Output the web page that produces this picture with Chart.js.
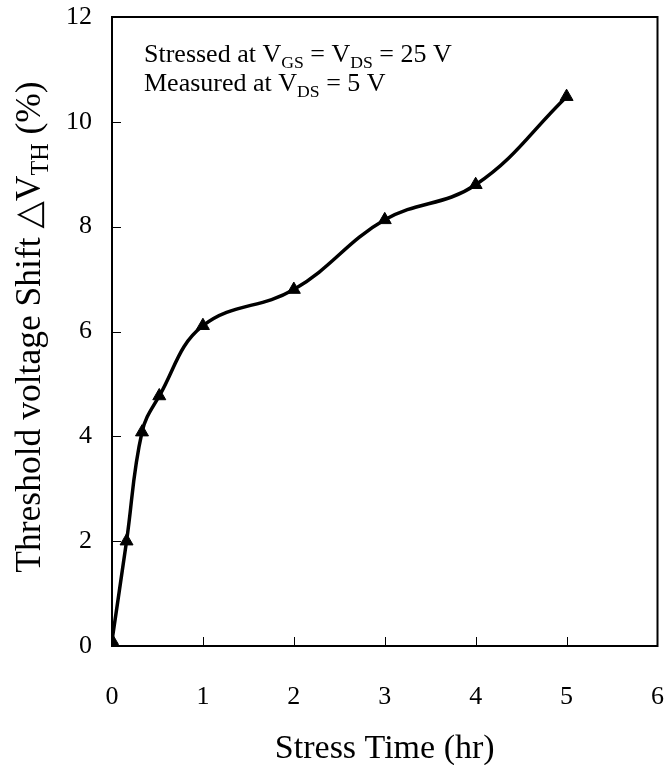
<!DOCTYPE html>
<html>
<head>
<meta charset="utf-8">
<script src="https://cdn.jsdelivr.net/npm/chart.js@4.4.0/dist/chart.umd.min.js"></script>
<style>
  html, body { margin: 0; padding: 0; background: #fff; }
  #wrap { width: 666px; height: 765px; position: relative; }
</style>
</head>
<body>
<div id="wrap"><canvas id="grafico"></canvas></div>
<script>
// stress time (hr) and threshold voltage shift (%)
const tiempos = [0, 0.16, 0.33, 0.52, 1, 2, 3, 4, 5];
const desplazamientos = [0.1, 2.0, 4.08, 4.77, 6.11, 6.8, 8.13, 8.8, 10.48];
const ticksX = [0, 1, 2, 3, 4, 5, 6];
const ticksY = [0, 2, 4, 6, 8, 10, 12];

const SERIF = '"Liberation Serif", "DejaVu Serif", serif';

const puntos = tiempos.map((t, i) => ({ x: t, y: desplazamientos[i] }));

// draws text with subscripts: partes = [[texto, esSub], ...]
const textoConSub = (ctx, partes, x, y, tam) => {
  let cx = x;
  partes.forEach(([txt, sub]) => {
    const t = sub ? tam * 0.68 : tam;
    ctx.font = `${t}px ${SERIF}`;
    ctx.fillText(txt, cx, sub ? y + tam * 0.22 : y);
    cx += ctx.measureText(txt).width;
  });
  return cx - x;
};

const anchoConSub = (ctx, partes, tam) => {
  let w = 0;
  partes.forEach(([txt, sub]) => {
    ctx.font = `${sub ? tam * 0.68 : tam}px ${SERIF}`;
    w += ctx.measureText(txt).width;
  });
  return w;
};

// labels shouldn't push the plot area around
const sinPadding = s => {
  s.paddingTop = 0;
  s.paddingBottom = 0;
  s.paddingLeft = 0;
  s.paddingRight = 0;
};

const marcoPlugin = {
  id: 'marco',
  afterDraw(chart) {
    const { ctx, chartArea: a, scales } = chart;
    ctx.save();
    ctx.strokeStyle = '#000';
    ctx.lineWidth = 2;
    ctx.strokeRect(a.left, a.top, a.right - a.left, a.bottom - a.top);

    // inward ticks
    ctx.lineWidth = 1;
    ctx.beginPath();
    ticksX.slice(1, -1).forEach(v => {
      const px = Math.round(scales.x.getPixelForValue(v)) + 0.5;
      ctx.moveTo(px, a.bottom);
      ctx.lineTo(px, a.bottom - 9);
    });
    ticksY.slice(1, -1).forEach(v => {
      const py = Math.round(scales.y.getPixelForValue(v)) + 0.5;
      ctx.moveTo(a.left, py);
      ctx.lineTo(a.left + 9, py);
    });
    ctx.stroke();

    ctx.fillStyle = '#000';
    ctx.textBaseline = 'alphabetic';
    ctx.textAlign = 'left';

    // annotation
    textoConSub(ctx, [['Stressed at V', false], ['GS', true], [' = V', false], ['DS', true], [' = 25 V', false]], a.left + 32, 62, 26);
    textoConSub(ctx, [['Measured at V', false], ['DS', true], [' = 5 V', false]], a.left + 32, 91, 26);

    // x title
    ctx.font = `34px ${SERIF}`;
    ctx.textAlign = 'center';
    ctx.fillText('Stress Time (hr)', (a.left + a.right) / 2, 758);

    // y title (rotated)
    const partesY = [['Threshold voltage Shift \u25B3V', false], ['TH', true], [' (%)', false]];
    const w = anchoConSub(ctx, partesY, 35.5);
    ctx.translate(40, 327);
    ctx.rotate(-Math.PI / 2);
    ctx.textAlign = 'left';
    textoConSub(ctx, partesY, -w / 2, 0, 35.5);
    ctx.restore();
  }
};

new Chart(document.getElementById('grafico'), {
  type: 'line',
  data: {
    datasets: [{
      data: puntos,
      borderColor: '#000',
      backgroundColor: '#000',
      borderWidth: 3.5,
      tension: 0.4,
      pointStyle: 'triangle',
      pointRadius: 7.5,
      pointBorderWidth: 1,
      pointBorderColor: '#000',
      pointBackgroundColor: '#000'
    }]
  },
  options: {
    responsive: true,
    maintainAspectRatio: false,
    animation: false,
    layout: { padding: { left: 0, top: 17, right: 8, bottom: 0 } },
    plugins: { legend: { display: false }, tooltip: { enabled: false } },
    scales: {
      x: {
        type: 'linear',
        min: 0,
        max: 6,
        afterBuildTicks: s => { s.ticks = ticksX.map(v => ({ value: v })); },
        afterFit: s => { s.height = 119; sinPadding(s); },
        grid: { display: false, drawTicks: false },
        border: { display: false },
        ticks: { color: '#000', font: { family: SERIF, size: 26 }, padding: 36, maxRotation: 0 }
      },
      y: {
        type: 'linear',
        min: 0,
        max: 12,
        afterBuildTicks: s => { s.ticks = ticksY.map(v => ({ value: v })); },
        afterFit: s => { s.width = 112; sinPadding(s); },
        grid: { display: false, drawTicks: false },
        border: { display: false },
        ticks: { color: '#000', font: { family: SERIF, size: 26 }, padding: 20 }
      }
    }
  },
  plugins: [marcoPlugin]
});
</script>
</body>
</html>
